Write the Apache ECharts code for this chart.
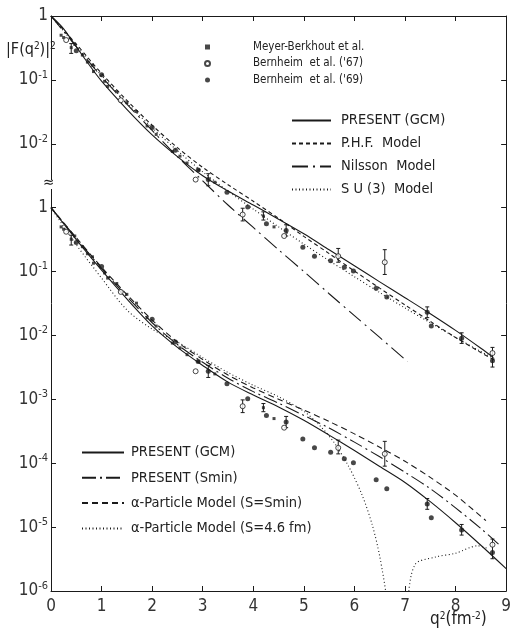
<!DOCTYPE html>
<html><head><meta charset="utf-8">
<script src="https://cdn.jsdelivr.net/npm/echarts@6/dist/echarts.min.js"></script>
<style>html,body{margin:0;padding:0;background:#fff}#c{width:514px;height:637px}</style>
</head><body><div id="c"></div>
<script>
// ---------- model curves, upper family (own log scale, 1 at the top) ----------
const upX = [0, 0.25, 0.5, 0.75, 1, 1.5, 2, 2.5, 3, 3.5, 4, 4.5, 5, 5.5, 6, 6.5, 7, 7.5, 8, 8.5, 8.75];
const upGCM = [1, 0.63, 0.33, 0.174, 0.0955, 0.0347, 0.0138, 6.3e-3, 3.16e-3, 1.82e-3, 1.10e-3, 6.6e-4, 3.9e-4, 2.19e-4, 1.23e-4, 6.9e-5, 3.9e-5, 2.19e-5, 1.20e-5, 6.3e-6, 4.5e-6];

const upX2 = [0, 0.5, 1, 1.5, 2, 2.5, 3, 3.5, 4, 4.5, 5, 5.5, 6, 6.5, 7, 7.5, 8, 8.5, 8.8];
const upPHF = [1, 0.363, 0.126, 0.0479, 0.0195, 8.7e-3, 4.27e-3, 2.29e-3, 1.26e-3, 6.8e-4, 3.55e-4, 1.91e-4, 1.02e-4, 5.5e-5, 3.0e-5, 1.66e-5, 9.3e-6, 5.4e-6, 4.0e-6];
const upSU3 = [1, 0.339, 0.117, 0.0437, 0.0178, 7.8e-3, 3.63e-3, 1.82e-3, 9.5e-4, 5.0e-4, 2.69e-4, 1.48e-4, 8.3e-5, 4.7e-5, 2.69e-5, 1.58e-5, 9.3e-6, 5.6e-6, 4.2e-6];

const nilX = [0, 0.5, 1, 1.5, 2, 2.5, 3, 3.5, 4, 4.5, 5, 5.5, 6, 6.5, 7.05];
const upNilsson = [1, 0.331, 0.112, 0.0417, 0.0162, 6.3e-3, 2.63e-3, 1.10e-3, 4.9e-4, 2.19e-4, 1.0e-4, 4.5e-5, 2.04e-5, 9.3e-6, 3.9e-6];

// ---------- model curves, lower family (scale shifted down three decades) ----------
const loX = [0, 0.5, 1, 1.5, 2, 2.5, 3, 3.5, 4, 4.5, 5, 5.5, 6, 6.5, 7, 7.5, 8, 8.5, 9];
const loGCM = [1, 0.316, 0.105, 0.0372, 0.0141, 6.5e-3, 3.39e-3, 1.86e-3, 1.17e-3, 7.6e-4, 4.7e-4, 2.75e-4, 1.58e-4, 8.9e-5, 5.0e-5, 2.5e-5, 1.17e-5, 5.2e-6, 2.24e-6];
const smX = [0, 0.5, 1, 1.5, 2, 2.5, 3, 3.5, 4, 4.5, 5, 5.5, 6, 6.5, 7, 7.5, 8, 8.5, 8.9];
const loSmin = [1, 0.331, 0.112, 0.0407, 0.0158, 7.2e-3, 3.8e-3, 2.14e-3, 1.32e-3, 8.7e-4, 5.6e-4, 3.55e-4, 2.14e-4, 1.26e-4, 7.2e-5, 4.0e-5, 2.0e-5, 9.5e-6, 5.0e-6];
const alX = [0, 0.5, 1, 1.5, 2, 2.5, 3, 3.5, 4, 4.5, 5, 5.5, 6, 6.5, 7, 7.5, 8, 8.6];
const loAlphaSmin = [1, 0.339, 0.117, 0.0437, 0.0174, 7.9e-3, 4.2e-3, 2.4e-3, 1.51e-3, 1.0e-3, 6.8e-4, 4.5e-4, 2.88e-4, 1.78e-4, 1.07e-4, 6.0e-5, 3.16e-5, 1.26e-5];
const a46X = [0, 0.5, 1, 1.5, 2, 2.5, 3, 3.5, 4, 4.5, 5, 5.3, 5.6, 5.9, 6.15, 6.35, 6.5, 6.65, 6.85, 7.05, 7.2, 7.6, 8.0, 8.44, 8.65];
const loAlpha46 = [1, 0.263, 0.079, 0.0251, 0.0126, 7.9e-3, 4.5e-3, 2.63e-3, 1.66e-3, 1.10e-3, 6.5e-4, 4.0e-4, 2.1e-4, 8.5e-5, 3.2e-5, 1.1e-5, 3.5e-6, 6.3e-7, 1e-8, 6.3e-7, 2.6e-6, 3.4e-6, 3.9e-6, 5.1e-6, 4.6e-6];

// ---------- measured |F|^2, shown against both families: [q2, value] ----------
const meyer = [[0.2,0.5],[0.25,0.46],[0.4,0.32],[0.47,0.36],[0.62,0.245],[0.72,0.19],[0.82,0.17],[0.84,0.135],[1.06,0.095],[1.12,0.079],[1.3,0.065],[1.5,0.044],[1.69,0.032],[1.9,0.019],[2.08,0.014],[2.4,7.6e-3],[2.55,6.4e-3],[2.69,5.0e-3],[2.92,3.9e-3],[3.24,2.5e-3],[4.2,7.4e-4],[4.41,5.0e-4]];
const bern67 = [[0.3,0.42],[1.38,0.048],[2.86,2.75e-3],[3.79,7.8e-4],[4.61,3.6e-4],[5.68,1.74e-4],[6.6,1.4e-4],[8.73,5.3e-6]];
const bern69 = [[0.5,0.285],[1.0,0.12],[2.0,0.018],[2.46,7.9e-3],[2.91,3.9e-3],[3.11,2.75e-3],[3.48,1.75e-3],[3.89,1.02e-3],[4.26,5.6e-4],[4.65,4.4e-4],[4.98,2.4e-4],[5.21,1.74e-4],[5.53,1.48e-4],[5.8,1.17e-4],[5.98,1.02e-4],[6.43,5.5e-5],[6.64,4.0e-5],[7.44,2.3e-5],[7.52,1.4e-5],[8.12,9.0e-6],[8.73,4.0e-6]];
// error bars: [q2, low, high]
const errBars = [[0.4,0.26,0.37],[3.11,2.2e-3,3.4e-3],[3.79,6.2e-4,9.8e-4],[4.2,6.4e-4,8.6e-4],[4.65,3.6e-4,5.4e-4],[5.68,1.4e-4,2.3e-4],[6.6,0.9e-4,2.2e-4],[7.44,1.9e-5,2.8e-5],[8.12,7.5e-6,1.1e-5],[8.73,3.2e-6,6.5e-6]];

// axis text
const xTicks = ['0','1','2','3','4','5','6','7','8','9'];

const zip = (xs, ys) => xs.map((x, i) => [x, ys[i]]);
const INK = '#1a1a1a';
const FONT = "'Liberation Sans Narrow','DejaVu Sans Condensed','Liberation Sans',sans-serif";

function decadeLabel(e) {
  if (e === 0) return '{b|1}';
  return '{b|10}{s|' + e + '}';
}
const labelRich = {
  b: { fontSize: 17, fontFamily: FONT, color: '#333' },
  s: { fontSize: 11, fontFamily: FONT, color: '#333', verticalAlign: 'top', padding: [0, 0, 10, 0] }
};

function lineSeries(name, xs, ys, yAxisIndex, type, width) {
  return {
    name, type: 'line', data: zip(xs, ys), yAxisIndex, xAxisIndex: 0,
    smooth: 0.3, symbol: 'none', clip: true,
    lineStyle: { color: INK, width: width || 1.1, type },
    itemStyle: { color: INK }, z: 3
  };
}
function pointSeries(name, pts, yAxisIndex, symbol, size, filled) {
  return {
    name, type: 'scatter', data: pts, yAxisIndex, xAxisIndex: 0,
    symbol, symbolSize: size,
    itemStyle: filled ? { color: INK } : { color: '#fff', borderColor: INK, borderWidth: 1 },
    z: 5
  };
}
function errSeries(list, yAxisIndex) {
  return {
    type: 'custom', yAxisIndex, xAxisIndex: 0, z: 4, silent: true,
    data: list,
    renderItem: (params, api) => {
      const a = api.coord([api.value(0), api.value(1)]);
      const b = api.coord([api.value(0), api.value(2)]);
      return { type: 'group', children: [
        { type: 'line', shape: { x1: a[0], y1: a[1], x2: b[0], y2: b[1] }, style: { stroke: INK, lineWidth: 1 } },
        { type: 'line', shape: { x1: a[0] - 2, y1: a[1], x2: a[0] + 2, y2: a[1] }, style: { stroke: INK, lineWidth: 1 } },
        { type: 'line', shape: { x1: b[0] - 2, y1: b[1], x2: b[0] + 2, y2: b[1] }, style: { stroke: INK, lineWidth: 1 } }
      ]};
    }
  };
}

const chart = echarts.init(document.getElementById('c'), null, { renderer: 'canvas' });
const axisLine = { lineStyle: { color: INK, width: 1 } };
const lineLegendText = { fontFamily: FONT, fontSize: 14.5, lineHeight: 14, color: '#222' };

chart.setOption({
  backgroundColor: '#fff',
  animation: false,
  grid: { left: 51, top: 16, width: 460, height: 575 },
  xAxis: [
    { type: 'value', min: 0, max: 9, interval: 1, position: 'bottom',
      axisLine, axisTick: { inside: true, length: 5, lineStyle: { color: INK } },
      splitLine: { show: false },
      axisLabel: { margin: 7, fontSize: 17, fontFamily: FONT, color: '#333', formatter: v => xTicks[Math.round(v)] } },
    { type: 'value', min: 0, max: 9, interval: 1, position: 'top',
      axisLine, axisTick: { inside: true, length: 5, lineStyle: { color: INK } },
      splitLine: { show: false }, axisLabel: { show: false } }
  ],
  yAxis: [
    // upper family scale
    { type: 'log', logBase: 10, min: 1e-9, max: 1, interval: 1, position: 'left',
      axisLine, axisTick: { inside: true, length: 5, lineStyle: { color: INK } },
      splitLine: { show: false },
      axisLabel: { margin: 3, rich: labelRich,
        formatter: v => { const e = Math.round(Math.log10(v)); return e >= -2 ? decadeLabel(e) : ''; } } },
    // lower family scale, shifted by three decades
    { type: 'log', logBase: 10, min: 1e-6, max: 1e3, interval: 1, position: 'left',
      axisLine: { show: false }, axisTick: { show: false }, splitLine: { show: false },
      axisLabel: { margin: 3, rich: labelRich,
        formatter: v => { const e = Math.round(Math.log10(v)); return e <= 0 ? decadeLabel(e) : ''; } } },
    // right frame
    { type: 'log', logBase: 10, min: 1e-9, max: 1, interval: 1, position: 'right',
      axisLine, axisTick: { inside: true, length: 5, lineStyle: { color: INK } },
      splitLine: { show: false }, axisLabel: { show: false } }
  ],
  legend: [
    { orient: 'vertical', left: 199, top: 36, itemGap: 4.5, itemWidth: 5, itemHeight: 5,
      selectedMode: false,
      textStyle: { fontFamily: FONT, fontSize: 11.5, lineHeight: 11, color: '#222', padding: [0, 0, 0, 38] },
      data: [
        { name: 'Meyer-Berkhout et al.', icon: 'rect' },
        { name: "Bernheim  et al. ('67)", icon: 'circle' },
        { name: "Bernheim  et al. ('69)", icon: 'circle' }
      ] },
    { orient: 'vertical', left: 286, top: 108, itemGap: 8, itemWidth: 39, itemHeight: 14,
      selectedMode: false, itemStyle: { opacity: 0 },
      textStyle: Object.assign({ padding: [0, 0, 0, 5] }, lineLegendText),
      data: ['PRESENT (GCM)', 'P.H.F.  Model', 'Nilsson  Model', 'S U (3)  Model'] },
    { orient: 'vertical', left: 76, top: 440, itemGap: 10.3, itemWidth: 42, itemHeight: 14,
      selectedMode: false, itemStyle: { opacity: 0 },
      textStyle: Object.assign({ padding: [0, 0, 0, 2] }, lineLegendText),
      data: ['PRESENT (GCM)', 'PRESENT (Smin)', 'α-Particle Model (S=Smin)', 'α-Particle Model (S=4.6 fm)'] }
  ],
  graphic: [
    { type: 'rect', left: 44, top: 180, shape: { width: 10, height: 9 }, style: { fill: '#fff' }, z: 100 },
    { type: 'text', left: 43, top: 176, z: 101, style: { text: '≈', font: '15px ' + FONT, fill: '#222' } },
    { type: 'text', left: 6, top: 41, z: 101, style: {
        text: '{a||F(q}{s|2}{a|)|}{s|2}',
        rich: { a: { fontSize: 16, fontFamily: FONT, fill: '#222' }, s: { fontSize: 10, fontFamily: FONT, fill: '#222', verticalAlign: 'top', padding: [0,0,8,0] } } } },
    { type: 'text', left: 430, top: 611, z: 101, style: {
        text: '{a|q}{s|2}{a|(fm}{s|-2}{a|)}',
        rich: { a: { fontSize: 17, fontFamily: FONT, fill: '#222' }, s: { fontSize: 10, fontFamily: FONT, fill: '#222', verticalAlign: 'top', padding: [0,0,8,0] } } } }
  ],
  series: [
    lineSeries('PRESENT (GCM)', upX, upGCM, 0, 'solid'),
    lineSeries('P.H.F.  Model', upX2, upPHF, 0, [4, 3]),
    lineSeries('Nilsson  Model', nilX, upNilsson, 0, [16, 5, 2, 5]),
    lineSeries('S U (3)  Model', upX2, upSU3, 0, [1, 2.5]),
    errSeries(errBars, 0),
    pointSeries('Meyer-Berkhout et al.', meyer, 0, 'rect', 3, true),
    pointSeries("Bernheim  et al. ('67)", bern67, 0, 'circle', 5, false),
    pointSeries("Bernheim  et al. ('69)", bern69, 0, 'circle', 5, true),

    lineSeries('PRESENT (GCM)', loX, loGCM, 1, 'solid'),
    lineSeries('PRESENT (Smin)', smX, loSmin, 1, [14, 4, 2, 4]),
    lineSeries('α-Particle Model (S=Smin)', alX, loAlphaSmin, 1, [6, 4]),
    lineSeries('α-Particle Model (S=4.6 fm)', a46X, loAlpha46, 1, [1, 2.5]),
    errSeries(errBars, 1),
    pointSeries('Meyer-Berkhout et al.', meyer, 1, 'rect', 3, true),
    pointSeries("Bernheim  et al. ('67)", bern67, 1, 'circle', 5, false),
    pointSeries("Bernheim  et al. ('69)", bern69, 1, 'circle', 5, true)
  ]
});
</script></body></html>
